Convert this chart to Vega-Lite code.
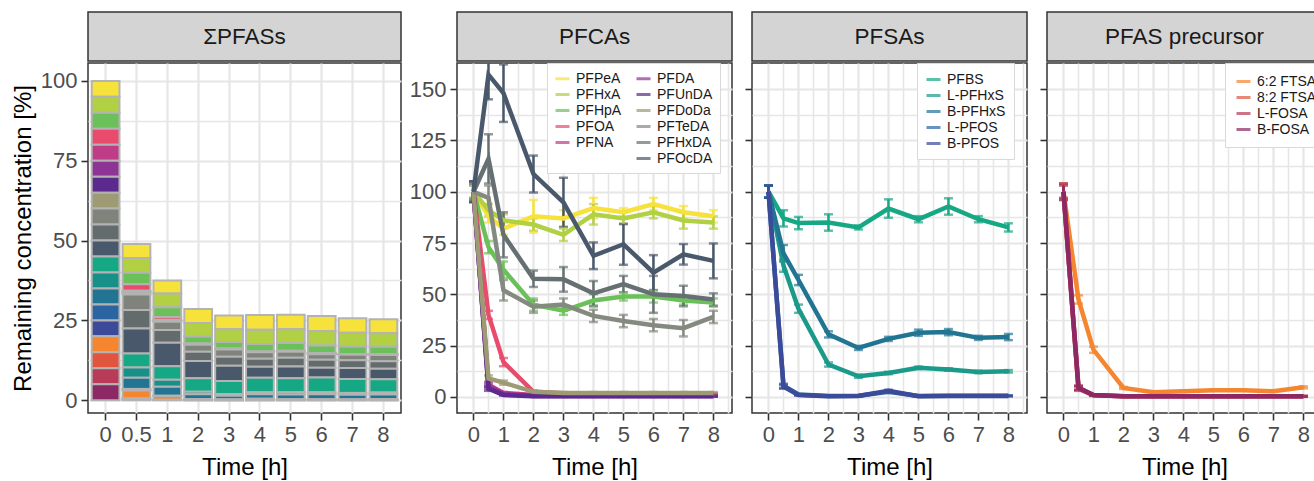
{
"$schema": "https://vega.github.io/schema/vega-lite/v6.json",
"background": "white",
"padding": {"left": 10, "top": 11, "right": 0, "bottom": 0},
"config": {
  "font": "Liberation Sans",
  "view": {"stroke": "#333333", "strokeWidth": 1.5},
  "axis": {"domain": false, "tickColor": "#333333", "tickWidth": 1.6, "tickSize": 7, "labelColor": "#4d4d4d", "labelFontSize": 22, "labelPadding": 4, "titleFontSize": 24, "titleFontWeight": "normal", "titleColor": "#000000", "gridColor": "#e6e6e6"}
},
"datasets": {"d": [
{"g":"PFCAs","c":"PFPeA","n":1,"t":0,"v":100,"sd":4,"s":5},{"g":"PFCAs","c":"PFPeA","n":1,"t":0.5,"v":88,"sd":3,"s":4.4},{"g":"PFCAs","c":"PFPeA","n":1,"t":1,"v":82,"sd":3,"s":4.1},{"g":"PFCAs","c":"PFPeA","n":1,"t":2,"v":88,"sd":8,"s":4.4},{"g":"PFCAs","c":"PFPeA","n":1,"t":3,"v":87,"sd":4,"s":4.35},{"g":"PFCAs","c":"PFPeA","n":1,"t":4,"v":92,"sd":5,"s":4.6},{"g":"PFCAs","c":"PFPeA","n":1,"t":5,"v":90,"sd":2,"s":4.5},{"g":"PFCAs","c":"PFPeA","n":1,"t":6,"v":94,"sd":3,"s":4.7},{"g":"PFCAs","c":"PFPeA","n":1,"t":7,"v":90,"sd":3,"s":4.5},{"g":"PFCAs","c":"PFPeA","n":1,"t":8,"v":88,"sd":3,"s":4.4},
{"g":"PFCAs","c":"PFHxA","n":2,"t":0,"v":100,"sd":3,"s":5},{"g":"PFCAs","c":"PFHxA","n":2,"t":0.5,"v":91,"sd":3,"s":4.55},{"g":"PFCAs","c":"PFHxA","n":2,"t":1,"v":86,"sd":3,"s":4.3},{"g":"PFCAs","c":"PFHxA","n":2,"t":2,"v":84,"sd":3,"s":4.2},{"g":"PFCAs","c":"PFHxA","n":2,"t":3,"v":79,"sd":3,"s":3.95},{"g":"PFCAs","c":"PFHxA","n":2,"t":4,"v":89,"sd":5,"s":4.45},{"g":"PFCAs","c":"PFHxA","n":2,"t":5,"v":87,"sd":3,"s":4.35},{"g":"PFCAs","c":"PFHxA","n":2,"t":6,"v":90,"sd":3,"s":4.5},{"g":"PFCAs","c":"PFHxA","n":2,"t":7,"v":86,"sd":4,"s":4.3},{"g":"PFCAs","c":"PFHxA","n":2,"t":8,"v":85,"sd":3,"s":4.25},
{"g":"PFCAs","c":"PFHpA","n":3,"t":0,"v":100,"sd":3,"s":5},{"g":"PFCAs","c":"PFHpA","n":3,"t":0.5,"v":73,"sd":3,"s":3.65},{"g":"PFCAs","c":"PFHpA","n":3,"t":1,"v":62,"sd":4,"s":3.1},{"g":"PFCAs","c":"PFHpA","n":3,"t":2,"v":45,"sd":3,"s":2.25},{"g":"PFCAs","c":"PFHpA","n":3,"t":3,"v":42,"sd":2,"s":2.1},{"g":"PFCAs","c":"PFHpA","n":3,"t":4,"v":47,"sd":3,"s":2.35},{"g":"PFCAs","c":"PFHpA","n":3,"t":5,"v":49,"sd":2,"s":2.45},{"g":"PFCAs","c":"PFHpA","n":3,"t":6,"v":49,"sd":3,"s":2.45},{"g":"PFCAs","c":"PFHpA","n":3,"t":7,"v":47,"sd":2,"s":2.35},{"g":"PFCAs","c":"PFHpA","n":3,"t":8,"v":46,"sd":2,"s":2.3},
{"g":"PFCAs","c":"PFOA","n":4,"t":0,"v":100,"sd":4,"s":5},{"g":"PFCAs","c":"PFOA","n":4,"t":0.5,"v":40,"sd":2,"s":2},{"g":"PFCAs","c":"PFOA","n":4,"t":1,"v":17,"sd":2,"s":0.85},{"g":"PFCAs","c":"PFOA","n":4,"t":2,"v":2.5,"sd":0.6,"s":0.125},{"g":"PFCAs","c":"PFOA","n":4,"t":3,"v":1.8,"sd":0.4,"s":0.09},{"g":"PFCAs","c":"PFOA","n":4,"t":4,"v":1.6,"sd":0.4,"s":0.08},{"g":"PFCAs","c":"PFOA","n":4,"t":5,"v":1.8,"sd":0.4,"s":0.09},{"g":"PFCAs","c":"PFOA","n":4,"t":6,"v":1.6,"sd":0.4,"s":0.08},{"g":"PFCAs","c":"PFOA","n":4,"t":7,"v":1.5,"sd":0.4,"s":0.075},{"g":"PFCAs","c":"PFOA","n":4,"t":8,"v":1.5,"sd":0.4,"s":0.075},
{"g":"PFCAs","c":"PFNA","n":5,"t":0,"v":100,"sd":4,"s":5},{"g":"PFCAs","c":"PFNA","n":5,"t":0.5,"v":6,"sd":1,"s":0.3},{"g":"PFCAs","c":"PFNA","n":5,"t":1,"v":2,"sd":0.5,"s":0.1},{"g":"PFCAs","c":"PFNA","n":5,"t":2,"v":1,"sd":0.3,"s":0.05},{"g":"PFCAs","c":"PFNA","n":5,"t":3,"v":0.8,"sd":0.3,"s":0.04},{"g":"PFCAs","c":"PFNA","n":5,"t":4,"v":0.8,"sd":0.3,"s":0.04},{"g":"PFCAs","c":"PFNA","n":5,"t":5,"v":0.9,"sd":0.3,"s":0.045},{"g":"PFCAs","c":"PFNA","n":5,"t":6,"v":0.8,"sd":0.3,"s":0.04},{"g":"PFCAs","c":"PFNA","n":5,"t":7,"v":0.8,"sd":0.3,"s":0.04},{"g":"PFCAs","c":"PFNA","n":5,"t":8,"v":0.8,"sd":0.3,"s":0.04},
{"g":"PFCAs","c":"PFDA","n":6,"t":0,"v":100,"sd":5,"s":5},{"g":"PFCAs","c":"PFDA","n":6,"t":0.5,"v":5,"sd":1,"s":0.25},{"g":"PFCAs","c":"PFDA","n":6,"t":1,"v":1.5,"sd":0.4,"s":0.075},{"g":"PFCAs","c":"PFDA","n":6,"t":2,"v":0.5,"sd":0.2,"s":0.025},{"g":"PFCAs","c":"PFDA","n":6,"t":3,"v":0.5,"sd":0.2,"s":0.025},{"g":"PFCAs","c":"PFDA","n":6,"t":4,"v":0.5,"sd":0.2,"s":0.025},{"g":"PFCAs","c":"PFDA","n":6,"t":5,"v":0.5,"sd":0.2,"s":0.025},{"g":"PFCAs","c":"PFDA","n":6,"t":6,"v":0.5,"sd":0.2,"s":0.025},{"g":"PFCAs","c":"PFDA","n":6,"t":7,"v":0.5,"sd":0.2,"s":0.025},{"g":"PFCAs","c":"PFDA","n":6,"t":8,"v":0.5,"sd":0.2,"s":0.025},
{"g":"PFCAs","c":"PFUnDA","n":7,"t":0,"v":100,"sd":5,"s":5},{"g":"PFCAs","c":"PFUnDA","n":7,"t":0.5,"v":4,"sd":1,"s":0.2},{"g":"PFCAs","c":"PFUnDA","n":7,"t":1,"v":1,"sd":0.3,"s":0.05},{"g":"PFCAs","c":"PFUnDA","n":7,"t":2,"v":0.3,"sd":0.2,"s":0.015},{"g":"PFCAs","c":"PFUnDA","n":7,"t":3,"v":0.3,"sd":0.2,"s":0.015},{"g":"PFCAs","c":"PFUnDA","n":7,"t":4,"v":0.3,"sd":0.2,"s":0.015},{"g":"PFCAs","c":"PFUnDA","n":7,"t":5,"v":0.3,"sd":0.2,"s":0.015},{"g":"PFCAs","c":"PFUnDA","n":7,"t":6,"v":0.3,"sd":0.2,"s":0.015},{"g":"PFCAs","c":"PFUnDA","n":7,"t":7,"v":0.3,"sd":0.2,"s":0.015},{"g":"PFCAs","c":"PFUnDA","n":7,"t":8,"v":0.3,"sd":0.2,"s":0.015},
{"g":"PFCAs","c":"PFDoDa","n":8,"t":0,"v":100,"sd":4,"s":5},{"g":"PFCAs","c":"PFDoDa","n":8,"t":0.5,"v":9,"sd":1.5,"s":0.45},{"g":"PFCAs","c":"PFDoDa","n":8,"t":1,"v":7,"sd":1,"s":0.35},{"g":"PFCAs","c":"PFDoDa","n":8,"t":2,"v":2.5,"sd":0.4,"s":0.125},{"g":"PFCAs","c":"PFDoDa","n":8,"t":3,"v":2,"sd":0.4,"s":0.1},{"g":"PFCAs","c":"PFDoDa","n":8,"t":4,"v":2,"sd":0.4,"s":0.1},{"g":"PFCAs","c":"PFDoDa","n":8,"t":5,"v":2,"sd":0.4,"s":0.1},{"g":"PFCAs","c":"PFDoDa","n":8,"t":6,"v":2,"sd":0.4,"s":0.1},{"g":"PFCAs","c":"PFDoDa","n":8,"t":7,"v":2,"sd":0.4,"s":0.1},{"g":"PFCAs","c":"PFDoDa","n":8,"t":8,"v":2,"sd":0.4,"s":0.1},
{"g":"PFCAs","c":"PFTeDA","n":9,"t":0,"v":100,"sd":4,"s":5},{"g":"PFCAs","c":"PFTeDA","n":9,"t":0.5,"v":97,"sd":6,"s":4.85},{"g":"PFCAs","c":"PFTeDA","n":9,"t":1,"v":52,"sd":5,"s":2.6},{"g":"PFCAs","c":"PFTeDA","n":9,"t":2,"v":44,"sd":3,"s":2.2},{"g":"PFCAs","c":"PFTeDA","n":9,"t":3,"v":45,"sd":3,"s":2.25},{"g":"PFCAs","c":"PFTeDA","n":9,"t":4,"v":39.5,"sd":3,"s":1.975},{"g":"PFCAs","c":"PFTeDA","n":9,"t":5,"v":37,"sd":3,"s":1.85},{"g":"PFCAs","c":"PFTeDA","n":9,"t":6,"v":35,"sd":3,"s":1.75},{"g":"PFCAs","c":"PFTeDA","n":9,"t":7,"v":33.5,"sd":4,"s":1.675},{"g":"PFCAs","c":"PFTeDA","n":9,"t":8,"v":39,"sd":3,"s":1.95},
{"g":"PFCAs","c":"PFHxDA","n":10,"t":0,"v":100,"sd":5,"s":5},{"g":"PFCAs","c":"PFHxDA","n":10,"t":0.5,"v":116,"sd":12,"s":5.8},{"g":"PFCAs","c":"PFHxDA","n":10,"t":1,"v":79,"sd":11,"s":3.95},{"g":"PFCAs","c":"PFHxDA","n":10,"t":2,"v":57.6,"sd":4,"s":2.88},{"g":"PFCAs","c":"PFHxDA","n":10,"t":3,"v":57.3,"sd":6,"s":2.865},{"g":"PFCAs","c":"PFHxDA","n":10,"t":4,"v":50.5,"sd":6,"s":2.525},{"g":"PFCAs","c":"PFHxDA","n":10,"t":5,"v":55,"sd":4,"s":2.75},{"g":"PFCAs","c":"PFHxDA","n":10,"t":6,"v":50,"sd":9,"s":2.5},{"g":"PFCAs","c":"PFHxDA","n":10,"t":7,"v":49.2,"sd":5,"s":2.46},{"g":"PFCAs","c":"PFHxDA","n":10,"t":8,"v":47.5,"sd":3,"s":2.375},
{"g":"PFCAs","c":"PFOcDA","n":11,"t":0,"v":100,"sd":5,"s":5},{"g":"PFCAs","c":"PFOcDA","n":11,"t":0.5,"v":157,"sd":12,"s":7.85},{"g":"PFCAs","c":"PFOcDA","n":11,"t":1,"v":148,"sd":14,"s":7.4},{"g":"PFCAs","c":"PFOcDA","n":11,"t":2,"v":108.6,"sd":9,"s":5.43},{"g":"PFCAs","c":"PFOcDA","n":11,"t":3,"v":94.8,"sd":12,"s":4.74},{"g":"PFCAs","c":"PFOcDA","n":11,"t":4,"v":68.8,"sd":6.5,"s":3.44},{"g":"PFCAs","c":"PFOcDA","n":11,"t":5,"v":74.4,"sd":10,"s":3.72},{"g":"PFCAs","c":"PFOcDA","n":11,"t":6,"v":60.6,"sd":8.5,"s":3.03},{"g":"PFCAs","c":"PFOcDA","n":11,"t":7,"v":69.5,"sd":5,"s":3.475},{"g":"PFCAs","c":"PFOcDA","n":11,"t":8,"v":66.3,"sd":8.5,"s":3.315},
{"g":"PFSAs","c":"PFBS","n":12,"t":0,"v":100,"sd":3,"s":5},{"g":"PFSAs","c":"PFBS","n":12,"t":0.5,"v":87,"sd":4,"s":4.35},{"g":"PFSAs","c":"PFBS","n":12,"t":1,"v":84.7,"sd":3,"s":4.235},{"g":"PFSAs","c":"PFBS","n":12,"t":2,"v":85,"sd":4,"s":4.25},{"g":"PFSAs","c":"PFBS","n":12,"t":3,"v":82.6,"sd":1,"s":4.13},{"g":"PFSAs","c":"PFBS","n":12,"t":4,"v":91.8,"sd":4.5,"s":4.59},{"g":"PFSAs","c":"PFBS","n":12,"t":5,"v":86.6,"sd":1.5,"s":4.33},{"g":"PFSAs","c":"PFBS","n":12,"t":6,"v":92.8,"sd":4,"s":4.64},{"g":"PFSAs","c":"PFBS","n":12,"t":7,"v":86.6,"sd":1.5,"s":4.33},{"g":"PFSAs","c":"PFBS","n":12,"t":8,"v":82.6,"sd":2,"s":4.13},
{"g":"PFSAs","c":"L-PFHxS","n":13,"t":0,"v":100,"sd":3,"s":5},{"g":"PFSAs","c":"L-PFHxS","n":13,"t":0.5,"v":64,"sd":3,"s":3.2},{"g":"PFSAs","c":"L-PFHxS","n":13,"t":1,"v":43,"sd":2,"s":2.15},{"g":"PFSAs","c":"L-PFHxS","n":13,"t":2,"v":15.8,"sd":1,"s":0.79},{"g":"PFSAs","c":"L-PFHxS","n":13,"t":3,"v":10.1,"sd":0.8,"s":0.505},{"g":"PFSAs","c":"L-PFHxS","n":13,"t":4,"v":11.7,"sd":0.6,"s":0.585},{"g":"PFSAs","c":"L-PFHxS","n":13,"t":5,"v":14.2,"sd":0.6,"s":0.71},{"g":"PFSAs","c":"L-PFHxS","n":13,"t":6,"v":13.4,"sd":0.6,"s":0.67},{"g":"PFSAs","c":"L-PFHxS","n":13,"t":7,"v":12.2,"sd":0.6,"s":0.61},{"g":"PFSAs","c":"L-PFHxS","n":13,"t":8,"v":12.5,"sd":0.6,"s":0.625},
{"g":"PFSAs","c":"B-PFHxS","n":14,"t":0,"v":100,"sd":3,"s":5},{"g":"PFSAs","c":"B-PFHxS","n":14,"t":0.5,"v":70,"sd":4,"s":3.5},{"g":"PFSAs","c":"B-PFHxS","n":14,"t":1,"v":57,"sd":2.5,"s":2.85},{"g":"PFSAs","c":"B-PFHxS","n":14,"t":2,"v":30.5,"sd":1.5,"s":1.525},{"g":"PFSAs","c":"B-PFHxS","n":14,"t":3,"v":23.9,"sd":1,"s":1.195},{"g":"PFSAs","c":"B-PFHxS","n":14,"t":4,"v":28.3,"sd":1,"s":1.415},{"g":"PFSAs","c":"B-PFHxS","n":14,"t":5,"v":31.3,"sd":1.5,"s":1.565},{"g":"PFSAs","c":"B-PFHxS","n":14,"t":6,"v":31.6,"sd":1.5,"s":1.58},{"g":"PFSAs","c":"B-PFHxS","n":14,"t":7,"v":28.8,"sd":1,"s":1.44},{"g":"PFSAs","c":"B-PFHxS","n":14,"t":8,"v":29.2,"sd":1.5,"s":1.46},
{"g":"PFSAs","c":"L-PFOS","n":15,"t":0,"v":100,"sd":3,"s":5},{"g":"PFSAs","c":"L-PFOS","n":15,"t":0.5,"v":5.5,"sd":1,"s":0.275},{"g":"PFSAs","c":"L-PFOS","n":15,"t":1,"v":1.2,"sd":0.3,"s":0.06},{"g":"PFSAs","c":"L-PFOS","n":15,"t":2,"v":0.5,"sd":0.2,"s":0.025},{"g":"PFSAs","c":"L-PFOS","n":15,"t":3,"v":0.6,"sd":0.2,"s":0.03},{"g":"PFSAs","c":"L-PFOS","n":15,"t":4,"v":2.5,"sd":0.5,"s":0.125},{"g":"PFSAs","c":"L-PFOS","n":15,"t":5,"v":0.5,"sd":0.2,"s":0.025},{"g":"PFSAs","c":"L-PFOS","n":15,"t":6,"v":0.6,"sd":0.2,"s":0.03},{"g":"PFSAs","c":"L-PFOS","n":15,"t":7,"v":0.6,"sd":0.2,"s":0.03},{"g":"PFSAs","c":"L-PFOS","n":15,"t":8,"v":0.6,"sd":0.2,"s":0.03},
{"g":"PFSAs","c":"B-PFOS","n":16,"t":0,"v":100,"sd":3,"s":5},{"g":"PFSAs","c":"B-PFOS","n":16,"t":0.5,"v":5,"sd":1,"s":0.25},{"g":"PFSAs","c":"B-PFOS","n":16,"t":1,"v":1,"sd":0.3,"s":0.05},{"g":"PFSAs","c":"B-PFOS","n":16,"t":2,"v":0.4,"sd":0.2,"s":0.02},{"g":"PFSAs","c":"B-PFOS","n":16,"t":3,"v":0.5,"sd":0.2,"s":0.025},{"g":"PFSAs","c":"B-PFOS","n":16,"t":4,"v":3,"sd":0.5,"s":0.15},{"g":"PFSAs","c":"B-PFOS","n":16,"t":5,"v":0.4,"sd":0.2,"s":0.02},{"g":"PFSAs","c":"B-PFOS","n":16,"t":6,"v":0.5,"sd":0.2,"s":0.025},{"g":"PFSAs","c":"B-PFOS","n":16,"t":7,"v":0.5,"sd":0.2,"s":0.025},{"g":"PFSAs","c":"B-PFOS","n":16,"t":8,"v":0.5,"sd":0.2,"s":0.025},
{"g":"PFAS precursor","c":"6:2 FTSA","n":17,"t":0,"v":100,"sd":4,"s":5},{"g":"PFAS precursor","c":"6:2 FTSA","n":17,"t":0.5,"v":47.5,"sd":2,"s":2.375},{"g":"PFAS precursor","c":"6:2 FTSA","n":17,"t":1,"v":23,"sd":1.5,"s":1.15},{"g":"PFAS precursor","c":"6:2 FTSA","n":17,"t":2,"v":4.4,"sd":0.5,"s":0.22},{"g":"PFAS precursor","c":"6:2 FTSA","n":17,"t":3,"v":2.3,"sd":0.3,"s":0.115},{"g":"PFAS precursor","c":"6:2 FTSA","n":17,"t":4,"v":2.8,"sd":0.3,"s":0.14},{"g":"PFAS precursor","c":"6:2 FTSA","n":17,"t":5,"v":3.3,"sd":0.3,"s":0.165},{"g":"PFAS precursor","c":"6:2 FTSA","n":17,"t":6,"v":3.3,"sd":0.3,"s":0.165},{"g":"PFAS precursor","c":"6:2 FTSA","n":17,"t":7,"v":2.8,"sd":0.3,"s":0.14},{"g":"PFAS precursor","c":"6:2 FTSA","n":17,"t":8,"v":4.7,"sd":0.5,"s":0.235},
{"g":"PFAS precursor","c":"8:2 FTSA","n":18,"t":0,"v":100,"sd":4,"s":5},{"g":"PFAS precursor","c":"8:2 FTSA","n":18,"t":0.5,"v":4.5,"sd":1,"s":0.225},{"g":"PFAS precursor","c":"8:2 FTSA","n":18,"t":1,"v":1,"sd":0.3,"s":0.05},{"g":"PFAS precursor","c":"8:2 FTSA","n":18,"t":2,"v":0.4,"sd":0.2,"s":0.02},{"g":"PFAS precursor","c":"8:2 FTSA","n":18,"t":3,"v":0.3,"sd":0.2,"s":0.015},{"g":"PFAS precursor","c":"8:2 FTSA","n":18,"t":4,"v":0.3,"sd":0.2,"s":0.015},{"g":"PFAS precursor","c":"8:2 FTSA","n":18,"t":5,"v":0.3,"sd":0.2,"s":0.015},{"g":"PFAS precursor","c":"8:2 FTSA","n":18,"t":6,"v":0.3,"sd":0.2,"s":0.015},{"g":"PFAS precursor","c":"8:2 FTSA","n":18,"t":7,"v":0.3,"sd":0.2,"s":0.015},{"g":"PFAS precursor","c":"8:2 FTSA","n":18,"t":8,"v":0.3,"sd":0.2,"s":0.015},
{"g":"PFAS precursor","c":"L-FOSA","n":19,"t":0,"v":100,"sd":4,"s":5},{"g":"PFAS precursor","c":"L-FOSA","n":19,"t":0.5,"v":4,"sd":1,"s":0.2},{"g":"PFAS precursor","c":"L-FOSA","n":19,"t":1,"v":0.8,"sd":0.3,"s":0.04},{"g":"PFAS precursor","c":"L-FOSA","n":19,"t":2,"v":0.3,"sd":0.2,"s":0.015},{"g":"PFAS precursor","c":"L-FOSA","n":19,"t":3,"v":0.3,"sd":0.2,"s":0.015},{"g":"PFAS precursor","c":"L-FOSA","n":19,"t":4,"v":0.3,"sd":0.2,"s":0.015},{"g":"PFAS precursor","c":"L-FOSA","n":19,"t":5,"v":0.3,"sd":0.2,"s":0.015},{"g":"PFAS precursor","c":"L-FOSA","n":19,"t":6,"v":0.3,"sd":0.2,"s":0.015},{"g":"PFAS precursor","c":"L-FOSA","n":19,"t":7,"v":0.3,"sd":0.2,"s":0.015},{"g":"PFAS precursor","c":"L-FOSA","n":19,"t":8,"v":0.3,"sd":0.2,"s":0.015},
{"g":"PFAS precursor","c":"B-FOSA","n":20,"t":0,"v":100,"sd":3,"s":5},{"g":"PFAS precursor","c":"B-FOSA","n":20,"t":0.5,"v":4.5,"sd":1,"s":0.225},{"g":"PFAS precursor","c":"B-FOSA","n":20,"t":1,"v":1,"sd":0.3,"s":0.05},{"g":"PFAS precursor","c":"B-FOSA","n":20,"t":2,"v":0.3,"sd":0.2,"s":0.015},{"g":"PFAS precursor","c":"B-FOSA","n":20,"t":3,"v":0.3,"sd":0.2,"s":0.015},{"g":"PFAS precursor","c":"B-FOSA","n":20,"t":4,"v":0.3,"sd":0.2,"s":0.015},{"g":"PFAS precursor","c":"B-FOSA","n":20,"t":5,"v":0.3,"sd":0.2,"s":0.015},{"g":"PFAS precursor","c":"B-FOSA","n":20,"t":6,"v":0.3,"sd":0.2,"s":0.015},{"g":"PFAS precursor","c":"B-FOSA","n":20,"t":7,"v":0.3,"sd":0.2,"s":0.015},{"g":"PFAS precursor","c":"B-FOSA","n":20,"t":8,"v":0.3,"sd":0.2,"s":0.015}
]},
"resolve": {"scale": {"color": "independent"}, "legend": {"color": "independent"}},
"spacing": 6,
"hconcat": [
 {"spacing": 0, "vconcat": [
   {"width": 313, "height": 49, "view": {"fill": "#d4d4d4", "stroke": "#333333", "strokeWidth": 1.5},
    "data": {"values": [{"lab": "ΣPFASs"}]},
    "mark": {"type": "text", "fontSize": 22.5, "color": "#1a1a1a"},
    "encoding": {"text": {"field": "lab", "type": "nominal"}}},
   {"width": 313, "height": 350, "data": {"name": "d"},
    "mark": {"type": "bar", "stroke": "#b3b3b3", "strokeWidth": 2},
    "encoding": {
      "x": {"field": "t", "type": "ordinal", "title": "Time [h]", "scale": {"paddingInner": 0.1, "paddingOuter": 0.12},
            "axis": {"labelAngle": 0, "grid": true, "gridWidth": 2.2, "bandPosition": 0.5, "titlePadding": 10}},
      "y": {"field": "s", "type": "quantitative", "title": "Remaining concentration [%]",
            "scale": {"domain": [-4, 105.6], "nice": false, "zero": false},
            "axis": {"values": [0,12.5,25,37.5,50,62.5,75,87.5,100], "labelExpr": "datum.value % 25 === 0 ? datum.label : ''",
                     "tickOpacity": {"condition": {"test": "datum.value % 25 === 0", "value": 1}, "value": 0},
                     "gridWidth": {"condition": {"test": "datum.value % 25 === 0", "value": 2.2}, "value": 1.6}, "titlePadding": 5}},
      "color": {"field": "c", "type": "nominal", "legend": null,
        "scale": {"domain": ["PFPeA","PFHxA","PFHpA","PFOA","PFNA","PFDA","PFUnDA","PFDoDa","PFTeDA","PFHxDA","PFOcDA","PFBS","L-PFHxS","B-PFHxS","L-PFOS","B-PFOS","6:2 FTSA","8:2 FTSA","L-FOSA","B-FOSA"],
                  "range": ["#f6e23a","#b2d043","#6cc05a","#e84b6c","#bf3d87","#8e3494","#5c2a8e","#9d9a74","#7f837b","#646b6d","#4a586b","#16a885","#169089","#217593","#2b64a0","#3b4a99","#f5852f","#e1553f","#b83b57","#8c2863"]}},
      "order": {"field": "n", "type": "quantitative", "sort": "descending"}
    }}
 ]},
 {"spacing": 10,
  "resolve": {"scale": {"color": "independent"}, "legend": {"color": "independent"}},
  "hconcat": [
   {"spacing": 0, "vconcat": [
     {"width": 275, "height": 49, "view": {"fill": "#d4d4d4", "stroke": "#333333", "strokeWidth": 1.5},
      "data": {"values": [{"lab": "PFCAs"}]},
      "mark": {"type": "text", "fontSize": 22.5, "color": "#1a1a1a"},
      "encoding": {"text": {"field": "lab", "type": "nominal"}}},
     {"width": 275, "height": 350, "data": {"name": "d"},
      "transform": [{"filter": "datum.g === 'PFCAs'"}],
      "encoding": {
        "x": {"field": "t", "type": "quantitative", "title": "Time [h]", "scale": {"domain": [-0.55, 8.62], "nice": false, "zero": false},
              "axis": {"values": [0,0.5,1,1.5,2,2.5,3,3.5,4,4.5,5,5.5,6,6.5,7,7.5,8,8.5], "labelOverlap": false, "labelExpr": "datum.value % 1 === 0 ? format(datum.value, 'd') : ''",
                       "tickOpacity": {"condition": {"test": "datum.value % 1 === 0", "value": 1}, "value": 0},
                       "gridWidth": {"condition": {"test": "datum.value % 1 === 0", "value": 2.2}, "value": 1.6}, "titlePadding": 10}},
        "y": {"field": "v", "type": "quantitative", "title": null, "scale": {"domain": [-7.8, 162.7], "nice": false, "zero": false},
              "axis": {"values": [0,12.5,25,37.5,50,62.5,75,87.5,100,112.5,125,137.5,150], "labelOverlap": false, "labelExpr": "datum.value % 25 === 0 ? format(datum.value, 'd') : ''",
                       "tickOpacity": {"condition": {"test": "datum.value % 25 === 0", "value": 1}, "value": 0},
                       "gridWidth": {"condition": {"test": "datum.value % 25 === 0", "value": 2.2}, "value": 1.6}}},
        "color": {"field": "c", "type": "nominal",
          "scale": {"domain": ["PFPeA","PFHxA","PFHpA","PFOA","PFNA"," ","PFDA","PFUnDA","PFDoDa","PFTeDA","PFHxDA","PFOcDA"],
                    "range": ["#f6e23a","#b2d043","#6cc05a","#e84b6c","#bf3d87","#ffffff","#8e3494","#5c2a8e","#9d9a74","#858a80","#667073","#4a586b"]},
          "legend": {"title": null, "orient": "none", "legendX": 90, "legendY": 51, "columns": 2, "columnPadding": 8, "rowPadding": 0, "padding": 7,
                     "fillColor": "#ffffff", "strokeColor": "#d9d9d9", "symbolType": "stroke", "symbolStrokeWidth": 3, "symbolSize": 196,
                     "labelFontSize": 14, "labelColor": "#1a1a1a", "labelOffset": 5}}
      },
      "layer": [
        {"mark": {"type": "errorbar", "clip": true, "thickness": 2.5, "ticks": {"size": 9, "thickness": 2.5}}, "encoding": {"yError": {"field": "sd"}}},
        {"mark": {"type": "line", "strokeWidth": 4.5, "clip": true}}
      ]}
   ]},
   {"spacing": 0, "vconcat": [
     {"width": 275, "height": 49, "view": {"fill": "#d4d4d4", "stroke": "#333333", "strokeWidth": 1.5},
      "data": {"values": [{"lab": "PFSAs"}]},
      "mark": {"type": "text", "fontSize": 22.5, "color": "#1a1a1a"},
      "encoding": {"text": {"field": "lab", "type": "nominal"}}},
     {"width": 275, "height": 350, "data": {"name": "d"},
      "transform": [{"filter": "datum.g === 'PFSAs'"}],
      "encoding": {
        "x": {"field": "t", "type": "quantitative", "title": "Time [h]", "scale": {"domain": [-0.55, 8.62], "nice": false, "zero": false},
              "axis": {"values": [0,0.5,1,1.5,2,2.5,3,3.5,4,4.5,5,5.5,6,6.5,7,7.5,8,8.5], "labelOverlap": false, "labelExpr": "datum.value % 1 === 0 ? format(datum.value, 'd') : ''",
                       "tickOpacity": {"condition": {"test": "datum.value % 1 === 0", "value": 1}, "value": 0},
                       "gridWidth": {"condition": {"test": "datum.value % 1 === 0", "value": 2.2}, "value": 1.6}, "titlePadding": 10}},
        "y": {"field": "v", "type": "quantitative", "title": null, "scale": {"domain": [-7.8, 162.7], "nice": false, "zero": false},
              "axis": {"values": [0,12.5,25,37.5,50,62.5,75,87.5,100,112.5,125,137.5,150], "labels": false,
                       "tickOpacity": {"condition": {"test": "datum.value % 25 === 0", "value": 1}, "value": 0},
                       "gridWidth": {"condition": {"test": "datum.value % 25 === 0", "value": 2.2}, "value": 1.6}}},
        "color": {"field": "c", "type": "nominal",
          "scale": {"domain": ["PFBS","L-PFHxS","B-PFHxS","L-PFOS","B-PFOS"],
                    "range": ["#16a885","#1b9a8a","#217593","#2b64a0","#3b4a99"]},
          "legend": {"title": null, "orient": "none", "legendX": 165, "legendY": 51, "rowPadding": 0, "padding": 8,
                     "fillColor": "#ffffff", "strokeColor": "#d9d9d9", "symbolType": "stroke", "symbolStrokeWidth": 3, "symbolSize": 196,
                     "labelFontSize": 14, "labelColor": "#1a1a1a", "labelOffset": 5}}
      },
      "layer": [
        {"mark": {"type": "errorbar", "clip": true, "thickness": 2.5, "ticks": {"size": 9, "thickness": 2.5}}, "encoding": {"yError": {"field": "sd"}}},
        {"mark": {"type": "line", "strokeWidth": 4.5, "clip": true}}
      ]}
   ]},
   {"spacing": 0, "vconcat": [
     {"width": 275, "height": 49, "view": {"fill": "#d4d4d4", "stroke": "#333333", "strokeWidth": 1.5},
      "data": {"values": [{"lab": "PFAS precursor"}]},
      "mark": {"type": "text", "fontSize": 22.5, "color": "#1a1a1a"},
      "encoding": {"text": {"field": "lab", "type": "nominal"}}},
     {"width": 275, "height": 350, "data": {"name": "d"},
      "transform": [{"filter": "datum.g === 'PFAS precursor'"}],
      "encoding": {
        "x": {"field": "t", "type": "quantitative", "title": "Time [h]", "scale": {"domain": [-0.55, 8.62], "nice": false, "zero": false},
              "axis": {"values": [0,0.5,1,1.5,2,2.5,3,3.5,4,4.5,5,5.5,6,6.5,7,7.5,8,8.5], "labelOverlap": false, "labelExpr": "datum.value % 1 === 0 ? format(datum.value, 'd') : ''",
                       "tickOpacity": {"condition": {"test": "datum.value % 1 === 0", "value": 1}, "value": 0},
                       "gridWidth": {"condition": {"test": "datum.value % 1 === 0", "value": 2.2}, "value": 1.6}, "titlePadding": 10}},
        "y": {"field": "v", "type": "quantitative", "title": null, "scale": {"domain": [-7.8, 162.7], "nice": false, "zero": false},
              "axis": {"values": [0,12.5,25,37.5,50,62.5,75,87.5,100,112.5,125,137.5,150], "labels": false,
                       "tickOpacity": {"condition": {"test": "datum.value % 25 === 0", "value": 1}, "value": 0},
                       "gridWidth": {"condition": {"test": "datum.value % 25 === 0", "value": 2.2}, "value": 1.6}}},
        "color": {"field": "c", "type": "nominal",
          "scale": {"domain": ["6:2 FTSA","8:2 FTSA","L-FOSA","B-FOSA"],
                    "range": ["#f5852f","#e1553f","#b83b57","#8c2863"]},
          "legend": {"title": null, "orient": "none", "legendX": 178, "legendY": 51, "rowPadding": 0, "padding": 10,
                     "fillColor": "#ffffff", "strokeColor": "#d9d9d9", "symbolType": "stroke", "symbolStrokeWidth": 3, "symbolSize": 196,
                     "labelFontSize": 14, "labelColor": "#1a1a1a", "labelOffset": 5}}
      },
      "layer": [
        {"mark": {"type": "errorbar", "clip": true, "thickness": 2.5, "ticks": {"size": 9, "thickness": 2.5}}, "encoding": {"yError": {"field": "sd"}}},
        {"mark": {"type": "line", "strokeWidth": 4.5, "clip": true}}
      ]}
   ]}
  ]}
]
}
